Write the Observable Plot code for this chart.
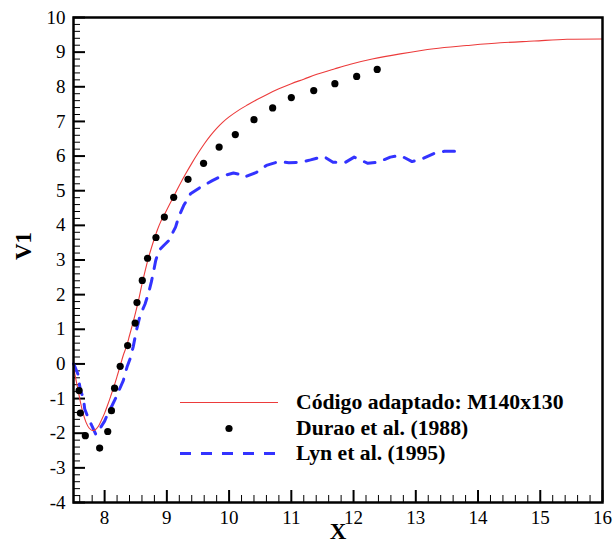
<!DOCTYPE html>
<html>
<head>
<meta charset="utf-8">
<script src="https://cdn.jsdelivr.net/npm/d3@7"></script>
<script src="https://cdn.jsdelivr.net/npm/@observablehq/plot@0.6"></script>
<style>
  html, body { margin: 0; padding: 0; background: #fff; }
  #wrap { position: relative; width: 614px; height: 547px; }
  #legend { position: absolute; left: 180px; top: 390px; font-family: 'Liberation Serif', 'Times New Roman', Times, 'DejaVu Serif', serif; font-weight: bold; font-size: 21.7px; color: #000; }
  .row { display: flex; align-items: center; height: 25.5px; }
  .row svg { width: 98px; height: 25px; margin-right: 18px; flex: none; }
  svg text { font-family: 'Liberation Serif', 'Times New Roman', Times, 'DejaVu Serif', serif; }
</style>
</head>
<body>
<div id="wrap"></div>
<script>
// Simulation: Código adaptado M140x130 (red line)
const simX = [7.5, 7.55, 7.6, 7.65, 7.7, 7.75, 7.8, 7.85, 7.9, 7.95, 8.0, 8.05, 8.1, 8.15, 8.2, 8.25, 8.3, 8.35, 8.4, 8.45, 8.5, 8.55, 8.6, 8.65, 8.7, 8.75, 8.8, 8.85, 8.9, 9.0, 9.1, 9.2, 9.3, 9.4, 9.5, 9.6, 9.7, 9.8, 9.9, 10.0, 10.15, 10.3, 10.45, 10.61, 10.8, 11.0, 11.2, 11.41, 11.7, 11.95, 12.3, 12.75, 13.29, 13.82, 14.36, 14.9, 15.43, 16.0];
const simY = [-0.1, -0.55, -1.0, -1.4, -1.68, -1.85, -1.92, -1.9, -1.8, -1.62, -1.42, -1.18, -0.92, -0.65, -0.36, -0.06, 0.25, 0.5, 0.82, 1.15, 1.5, 1.88, 2.3, 2.68, 3.03, 3.34, 3.62, 3.88, 4.1, 4.45, 4.8, 5.15, 5.48, 5.79, 6.08, 6.35, 6.59, 6.8, 6.98, 7.13, 7.32, 7.48, 7.63, 7.78, 7.94, 8.09, 8.22, 8.36, 8.52, 8.65, 8.8, 8.95, 9.10, 9.19, 9.27, 9.32, 9.37, 9.38];

// Durao et al. (1988) (black dots)
const duraoX = [7.59, 7.61, 7.69, 7.92, 8.05, 8.11, 8.16, 8.25, 8.37, 8.49, 8.52, 8.605, 8.69, 8.825, 8.96, 9.11, 9.34, 9.59, 9.84, 10.10, 10.40, 10.70, 11.0, 11.36, 11.70, 12.05, 12.38];
const duraoY = [-0.77, -1.42, -2.07, -2.43, -1.95, -1.35, -0.70, -0.07, 0.53, 1.18, 1.77, 2.41, 3.05, 3.65, 4.24, 4.81, 5.33, 5.79, 6.26, 6.62, 7.05, 7.39, 7.69, 7.89, 8.09, 8.30, 8.50];

// Lyn et al. (1995) (blue dashed)
const lynX = [7.5, 7.52, 7.57, 7.61, 7.66, 7.68, 7.74, 7.8, 7.86, 7.93, 8.0, 8.05, 8.12, 8.18, 8.23, 8.30, 8.36, 8.41, 8.46, 8.51, 8.57, 8.65, 8.71, 8.75, 8.79, 8.82, 8.87, 8.95, 9.03, 9.14, 9.19, 9.27, 9.38, 9.54, 9.73, 9.86, 10.07, 10.18, 10.24, 10.44, 10.60, 10.80, 10.96, 11.14, 11.31, 11.52, 11.67, 11.87, 12.01, 12.23, 12.39, 12.59, 12.75, 12.94, 13.10, 13.30, 13.46, 13.74];
const lynY = [0.0, -0.07, -0.29, -0.75, -1.0, -1.30, -1.58, -1.8, -2.04, -1.85, -1.65, -1.44, -1.20, -0.98, -0.77, -0.48, -0.09, 0.15, 0.5, 0.96, 1.40, 1.73, 2.07, 2.36, 2.70, 2.98, 3.27, 3.42, 3.56, 3.95, 4.24, 4.57, 4.91, 5.10, 5.29, 5.41, 5.51, 5.47, 5.39, 5.53, 5.73, 5.84, 5.81, 5.82, 5.89, 5.99, 5.82, 5.82, 5.97, 5.79, 5.82, 5.97, 6.02, 5.84, 5.92, 6.08, 6.14, 6.14];

const xTicks = [8, 9, 10, 11, 12, 13, 14, 15, 16];
const yTicks = [-4, -3, -2, -1, 0, 1, 2, 3, 4, 5, 6, 7, 8, 9, 10];
const seriesNames = ["Código adaptado: M140x130", "Durao et al. (1988)", "Lyn et al. (1995)"];
const xTitle = "X", yTitle = "V1";

const sim = simX.map((x, i) => ({x, y: simY[i]}));
const durao = duraoX.map((x, i) => ({x, y: duraoY[i]}));
const lyn = lynX.map((x, i) => ({x, y: lynY[i]}));

const xMinor = d3.range(38, 80).map(k => k / 5).filter(v => !Number.isInteger(v));
const yMinor = d3.range(-20, 50).map(k => k / 5).filter(v => !Number.isInteger(v));

const W = 614, H = 547, mL = 73, mR = 12, mT = 17, mB = 45;
const innerW = W - mL - mR, innerH = H - mT - mB;
const RED = "#ec3b3b", BLUE = "#3333ff";
const SERIF = "'Liberation Serif', 'Times New Roman', Times, 'DejaVu Serif', serif";

const chart = Plot.plot({
  width: W, height: H,
  marginLeft: mL, marginRight: mR, marginTop: mT, marginBottom: mB,
  style: {fontFamily: SERIF, fontSize: "19px", color: "#000", background: "#fff"},
  x: {domain: [7.5, 16]},
  y: {domain: [-4, 10]},
  marks: [
    Plot.axisX({ticks: xTicks, tickSize: 0, tickPadding: 8, tickFormat: d => String(d), label: null, fontSize: 19}),
    Plot.axisY({ticks: yTicks, tickSize: 0, tickPadding: 8, tickFormat: d => String(d), label: null, fontSize: 19}),
    Plot.text([xTitle], {text: d => d, frameAnchor: "bottom", dy: 36, fontSize: 23, fontWeight: "bold", fill: "#000"}),
    Plot.text([yTitle], {text: d => d, frameAnchor: "left", dx: -50, rotate: -90, fontSize: 23, fontWeight: "bold", fill: "#000"}),
    Plot.tickX(xTicks, {x: d => d, insetTop: innerH - 12, stroke: "#000", strokeWidth: 2}),
    Plot.tickX(xMinor, {x: d => d, insetTop: innerH - 7, stroke: "#000", strokeWidth: 1}),
    Plot.tickY(yTicks, {y: d => d, insetRight: innerW - 12, stroke: "#000", strokeWidth: 2}),
    Plot.tickY(yMinor, {y: d => d, insetRight: innerW - 7, stroke: "#000", strokeWidth: 1}),
    Plot.line(lyn, {x: "x", y: "y", stroke: BLUE, strokeWidth: 3, strokeDasharray: "11,10"}),
    Plot.line(sim, {x: "x", y: "y", stroke: RED, strokeWidth: 1.1, curve: "catmull-rom"}),
    Plot.dot(durao, {x: "x", y: "y", r: 3.6, fill: "#000", stroke: "none"}),
    Plot.frame({stroke: "#000", strokeWidth: 2.5})
  ]
});
const wrap = document.getElementById("wrap");
wrap.appendChild(chart);

const legend = document.createElement("div");
legend.id = "legend";
const swatches = [
  `<svg><line x1="0" x2="98" y1="12.5" y2="12.5" stroke="${RED}" stroke-width="1.2"/></svg>`,
  `<svg><circle cx="49" cy="12.5" r="3.6" fill="#000"/></svg>`,
  `<svg><line x1="0" x2="98" y1="12.5" y2="12.5" stroke="${BLUE}" stroke-width="3" stroke-dasharray="11,10"/></svg>`
];
seriesNames.forEach((name, i) => {
  const row = document.createElement("div");
  row.className = "row";
  row.innerHTML = swatches[i] + `<span>${name}</span>`;
  legend.appendChild(row);
});
wrap.appendChild(legend);
</script>
</body>
</html>
